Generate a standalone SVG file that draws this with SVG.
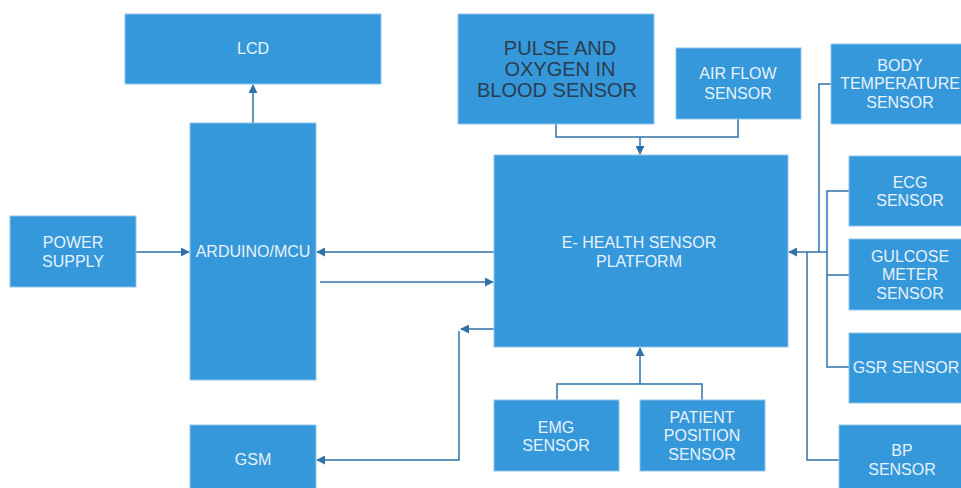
<svg xmlns="http://www.w3.org/2000/svg" width="961" height="488" viewBox="0 0 961 488">
<defs>
<style>
.box{fill:#3598db;stroke:#8fc4ec;stroke-width:1}
.t{font-family:"Liberation Sans",Arial,sans-serif;font-size:16px;fill:#e8f2fa;text-anchor:middle}
.dk{font-family:"Liberation Sans",Arial,sans-serif;font-size:20px;fill:#2b3d4f;text-anchor:middle}
.ln{fill:none;stroke:#2f72a8;stroke-width:1.5}
</style>
<marker id="ah" viewBox="0 0 10 10" refX="9" refY="5" markerWidth="9" markerHeight="9" markerUnits="userSpaceOnUse" orient="auto">
<path d="M0,0 L10,5 L0,10 z" fill="#2f72a8"/>
</marker>
</defs>
<rect width="961" height="488" fill="#ffffff"/>
<g id="connectors">
<path class="ln" d="M253,123 V85" marker-end="url(#ah)"/>
<path class="ln" d="M136,252 H189" marker-end="url(#ah)"/>
<path class="ln" d="M494,252 H317" marker-end="url(#ah)"/>
<path class="ln" d="M320,282 H493" marker-end="url(#ah)"/>
<path class="ln" d="M494,329 H461" marker-end="url(#ah)"/>
<path class="ln" d="M459,331 V460 H317" marker-end="url(#ah)"/>
<path class="ln" d="M556,124 V137 H738 V119"/>
<path class="ln" d="M640,137 V154" marker-end="url(#ah)"/>
<path class="ln" d="M557,400 V384 H702 V400"/>
<path class="ln" d="M640,384 V348" marker-end="url(#ah)"/>
<path class="ln" d="M827,252 H789" marker-end="url(#ah)"/>
<path class="ln" d="M831,84 H819 V252"/>
<path class="ln" d="M849,191 H827 V367 H849"/>
<path class="ln" d="M827,275 H849"/>
<path class="ln" d="M807,252 V460 H839"/>
</g>
<g id="lcd"><rect class="box" x="125" y="14" width="256" height="70"/><text class="t" x="253" y="54">LCD</text></g>
<g id="arduino"><rect class="box" x="190" y="123" width="126" height="257"/><text class="t" x="253" y="257">ARDUINO/MCU</text></g>
<g id="power"><rect class="box" x="10" y="216" width="126" height="71"/><text class="t" x="73" y="248">POWER</text><text class="t" x="73" y="267">SUPPLY</text></g>
<g id="gsm"><rect class="box" x="190" y="425" width="126" height="70"/><text class="t" x="253" y="465">GSM</text></g>
<g id="pulse"><rect class="box" x="458" y="14" width="196" height="110"/><text class="dk" x="560" y="55">PULSE AND</text><text class="dk" x="560" y="76">OXYGEN IN</text><text class="dk" x="557" y="97">BLOOD SENSOR</text></g>
<g id="airflow"><rect class="box" x="676" y="48" width="125" height="71"/><text class="t" x="738" y="79">AIR FLOW</text><text class="t" x="738" y="99">SENSOR</text></g>
<g id="ehealth"><rect class="box" x="494" y="155" width="294" height="192"/><text class="t" x="639" y="248">E- HEALTH SENSOR</text><text class="t" x="639" y="267">PLATFORM</text></g>
<g id="bodytemp"><rect class="box" x="831" y="44" width="140" height="80"/><text class="t" x="900" y="71">BODY</text><text class="t" x="900" y="89">TEMPERATURE</text><text class="t" x="900" y="108">SENSOR</text></g>
<g id="ecg"><rect class="box" x="849" y="156" width="122" height="70"/><text class="t" x="910" y="188">ECG</text><text class="t" x="910" y="206">SENSOR</text></g>
<g id="glucose"><rect class="box" x="849" y="239" width="122" height="71"/><text class="t" x="910" y="262">GULCOSE</text><text class="t" x="910" y="280">METER</text><text class="t" x="910" y="299">SENSOR</text></g>
<g id="gsr"><rect class="box" x="849" y="333" width="122" height="70"/><text class="t" x="906" y="373">GSR SENSOR</text></g>
<g id="bp"><rect class="box" x="839" y="425" width="132" height="70"/><text class="t" x="902" y="456">BP</text><text class="t" x="902" y="475">SENSOR</text></g>
<g id="emg"><rect class="box" x="494" y="400" width="125" height="71"/><text class="t" x="556" y="433">EMG</text><text class="t" x="556" y="451">SENSOR</text></g>
<g id="patient"><rect class="box" x="640" y="400" width="125" height="71"/><text class="t" x="702" y="423">PATIENT</text><text class="t" x="702" y="441">POSITION</text><text class="t" x="702" y="460">SENSOR</text></g>
</svg>
